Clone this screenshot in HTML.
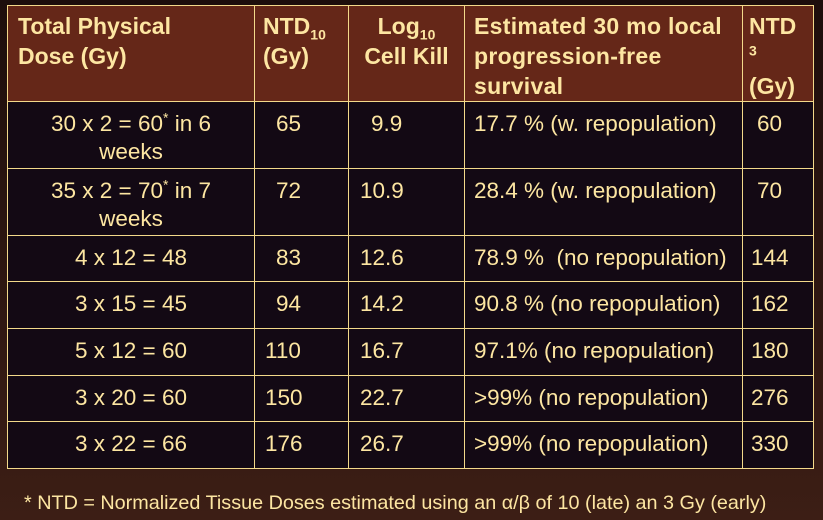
<!DOCTYPE html>
<html><head><meta charset="utf-8"><style>
body{margin:0;width:823px;height:520px;overflow:hidden;background:linear-gradient(#1d0e0c,#3c1e15);font-family:"Liberation Sans",sans-serif;color:#fde6a2;position:relative}
table{position:absolute;left:7px;top:5px;border-collapse:collapse;table-layout:fixed}
td{border:1.5px solid #f3d98a;font-size:22.5px;line-height:28px;vertical-align:top;padding:0;background:#130914;white-space:nowrap}
tr.h td{background:#652718;font-weight:bold;padding-top:5px;line-height:30px;font-size:23px;white-space:normal}
.c{text-align:center}
sub,sup{font-size:14px;line-height:0}
#fn{position:absolute;left:24px;top:492px;font-size:19.8px;white-space:nowrap}
</style></head><body>
<table>
<colgroup><col style="width:247px"><col style="width:94px"><col style="width:116px"><col style="width:278px"><col style="width:71px"></colgroup>
<tr class="h" style="height:96px">
<td style="padding-left:10px">Total Physical<br>Dose (Gy)</td>
<td style="padding-left:8px">NTD<sub>10</sub><br>(Gy)</td>
<td class="c">Log<sub>10</sub><br>Cell Kill</td>
<td style="padding-left:9px;padding-right:4px;letter-spacing:0.3px">Estimated 30 mo local progression-free survival</td>
<td style="padding-left:6px">NTD<br><sup style="font-size:14px">3</sup><br>(Gy)</td>
</tr>
<tr style="height:67px"><td class="c" style="padding-top:8px">30 x 2 = 60<sup>*</sup> in 6<br>weeks</td><td style="padding:8px 0 0 21px">65</td><td style="padding:8px 0 0 22px">9.9</td><td style="padding:8px 0 0 9px">17.7 % (w. repopulation)</td><td style="padding:8px 0 0 14px">60</td></tr>
<tr style="height:67px"><td class="c" style="padding-top:8px">35 x 2 = 70<sup>*</sup> in 7<br>weeks</td><td style="padding:8px 0 0 21px">72</td><td style="padding:8px 0 0 11px">10.9</td><td style="padding:8px 0 0 9px">28.4 % (w. repopulation)</td><td style="padding:8px 0 0 14px">70</td></tr>
<tr style="height:46px"><td class="c" style="padding-top:8px">4 x 12 = 48</td><td style="padding:8px 0 0 21px">83</td><td style="padding:8px 0 0 11px">12.6</td><td style="padding:8px 0 0 9px">78.9 %&nbsp; (no repopulation)</td><td style="padding:8px 0 0 8px">144</td></tr>
<tr style="height:47px"><td class="c" style="padding-top:8px">3 x 15 = 45</td><td style="padding:8px 0 0 21px">94</td><td style="padding:8px 0 0 11px">14.2</td><td style="padding:8px 0 0 9px">90.8 % (no repopulation)</td><td style="padding:8px 0 0 8px">162</td></tr>
<tr style="height:47px"><td class="c" style="padding-top:8px">5 x 12 = 60</td><td style="padding:8px 0 0 10px">110</td><td style="padding:8px 0 0 11px">16.7</td><td style="padding:8px 0 0 9px">97.1% (no repopulation)</td><td style="padding:8px 0 0 8px">180</td></tr>
<tr style="height:46px"><td class="c" style="padding-top:8px">3 x 20 = 60</td><td style="padding:8px 0 0 10px">150</td><td style="padding:8px 0 0 11px">22.7</td><td style="padding:8px 0 0 9px">&gt;99% (no repopulation)</td><td style="padding:8px 0 0 8px">276</td></tr>
<tr style="height:47px"><td class="c" style="padding-top:8px">3 x 22 = 66</td><td style="padding:8px 0 0 10px">176</td><td style="padding:8px 0 0 11px">26.7</td><td style="padding:8px 0 0 9px">&gt;99% (no repopulation)</td><td style="padding:8px 0 0 8px">330</td></tr>
</table>
<div id="fn">* NTD = Normalized Tissue Doses estimated using an α/β of 10 (late) an 3 Gy (early)</div>
</body></html>
